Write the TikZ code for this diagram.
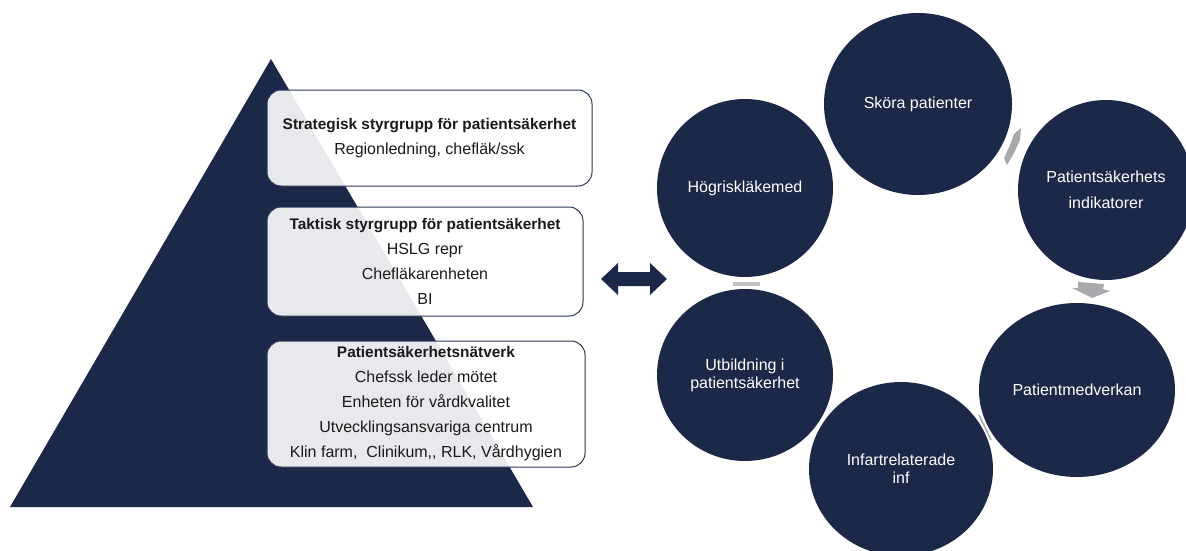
\documentclass[tikz,border=0pt]{standalone}
\usepackage{fontspec}
\setmainfont{Liberation Sans}
\usetikzlibrary{shapes.geometric}
\definecolor{navy}{HTML}{1B2848}
\definecolor{boxline}{HTML}{2C3857}
\definecolor{arrowgray}{HTML}{A7A9AC}
\definecolor{textdark}{HTML}{1A1A1A}
\begin{document}
\begin{tikzpicture}[x=1pt,y=-1pt,
  levelbox/.style={draw=boxline, line width=1pt, rounded corners=14pt, fill=white,
    fill opacity=0.9, text opacity=1, draw opacity=1, align=center, inner sep=0pt,
    text=textdark, font=\fontsize{16}{25}\selectfont},
  circ/.style={ellipse, fill=navy, draw=none, text=white, inner sep=0pt, align=center,
    font=\fontsize{16}{26}\selectfont},
  tightcirc/.style={circ, font=\fontsize{16}{18}\selectfont},
  grayarrow/.style={fill=arrowgray, draw=none},
  bigarrow/.style={fill=navy, draw=none}]
\useasboundingbox (0,0) rectangle (1186,551);

% pyramid
\fill[navy] (271,59) -- (533,507) -- (10,507) -- cycle;

% level boxes
\node[levelbox, minimum width=325pt, minimum height=96pt] (strat) at (429.5,138)
  {{\fontsize{15.4}{25}\selectfont\bfseries Strategisk styrgrupp för patientsäkerhet}\\Regionledning, chefläk/ssk};
\node[levelbox, minimum width=316pt, minimum height=109pt] (takt) at (425,261.5)
  {{\fontsize{15.4}{25}\selectfont\bfseries Taktisk styrgrupp för patientsäkerhet}\\HSLG repr\\Chefläkarenheten\\BI};
\node[levelbox, minimum width=318pt, minimum height=126pt] (natv) at (426,404)
  {{\fontsize{15.4}{25}\selectfont\bfseries Patientsäkerhetsnätverk}\\Chefssk leder mötet\\Enheten för vårdkvalitet\\Utvecklingsansvariga centrum\\Klin farm,\ \ Clinikum{,}{,} RLK, Vårdhygien};

% double arrow
\fill[bigarrow] (601,279) -- (618,263) -- (618,272) -- (650,272) -- (650,263) -- (667,279)
  -- (650,295) -- (650,286) -- (618,286) -- (618,295) -- cycle;

% gray cycle arrows (under the circles)
\fill[grayarrow] (1021,128) -- (1020,140) -- (1014,153) -- (1007,165)
  -- (1004,158) -- (1010,145) -- (1014,134) -- cycle;
\fill[grayarrow] (1078,282) -- (1104,284) -- (1103,289) -- (1110,291) -- (1092,298)
  -- (1072,288) -- (1078,288) -- cycle;
\draw[arrowgray, line width=1.5pt] (979,415) -- (991,440);
\fill[arrowgray!70] (733,282) rectangle (760,285.5);

% cycle circles
\node[circ, minimum width=188pt, minimum height=182pt] (skora) at (918,104) {Sköra patienter};
\node[circ, minimum width=176pt, minimum height=180pt] (indik) at (1106,190) {Patientsäkerhets\\indikatorer};
\node[circ, minimum width=196pt, minimum height=174pt] (medv) at (1077,390) {Patientmedverkan};
\node[tightcirc, minimum width=184pt, minimum height=174pt] (infart) at (901,469) {Infartrelaterade\\inf};
\node[tightcirc, minimum width=176pt, minimum height=172pt] (utb) at (745,375) {Utbildning i\\patientsäkerhet};
\node[circ, minimum width=176pt, minimum height=178pt] (hog) at (745,188) {Högriskläkemed};
\end{tikzpicture}
\end{document}
